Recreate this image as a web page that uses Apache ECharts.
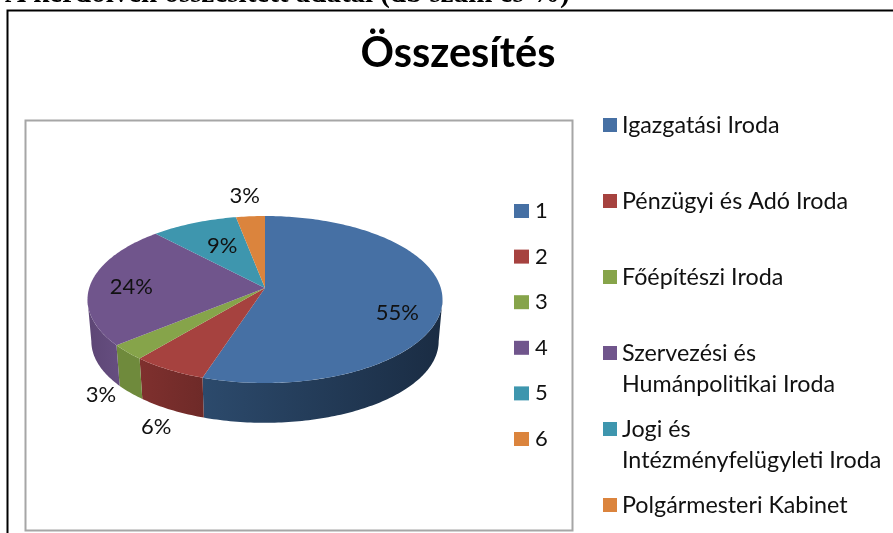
<!DOCTYPE html>
<html>
<head>
<meta charset="utf-8">
<title>Összesítés</title>
<script src="https://cdn.jsdelivr.net/npm/echarts@6/dist/echarts.min.js"></script>
<style>
html,body{margin:0;padding:0;background:#fff;}
#main{width:893px;height:533px;}
</style>
</head>
<body>
<div id="main"></div>
<script>
var categories=['1','2','3','4','5','6'];
var officeNames=['Igazgatási Iroda','Pénzügyi és Adó Iroda','Főépítészi Iroda','Szervezési és\nHumánpolitikai Iroda','Jogi és\nIntézményfelügyleti Iroda','Polgármesteri Kabinet'];
var shares=[55,6,3,24,9,3];
var topColors=['#4670a4','#a6423f','#86a44a','#70558c','#3e96ae','#db843d'];
var sideLeft=['#2c4a6c','#7f302e','#6f8a3c','#5d4675','#2f7a8e','#b86e30'];
var sideRight=['#1a2c43','#6e2a28','#6f8a3c','#664e80','#2f7a8e','#b86e30'];

// where the tilted disc sits on the page
var cx=265,topY=288,bottomY=330,k=0.138;
var topR=175.8,topS=81.9,bottomR=172,bottomS=80;
// label anchor as a fraction of the radius, then a small nudge
var labelFactor=[0.75,1.2,1.2,0.75,0.75,1.3];
var labelNudge=[[0,15],[10,38],[5,28],[-3,3],[12,8],[-2,-2]];

var total=0;
for(var i=0;i<shares.length;i++){total+=shares[i];}

function startOf(index){
    var sum=0;
    for(var i=0;i<index;i++){sum+=shares[i];}
    return sum/total*360;
}

// degrees clockwise from 12 o'clock to a point on the disc
function project(deg,factor,y0,r,s){
    var a=deg*Math.PI/180;
    var X=Math.sin(a)*factor,Y=-Math.cos(a)*factor;
    var d=1-k*Y;
    return [cx+r*X/d,y0+s*Y/d];
}

function rim(from,to,y0,r,s){
    var pts=[];
    var n=Math.max(2,Math.ceil(Math.abs(to-from)));
    for(var i=0;i<=n;i++){
        pts.push(project(from+(to-from)*i/n,1,y0,r,s));
    }
    return pts;
}

function renderSide(params,api){
    var i=params.dataIndex;
    var from=Math.max(startOf(i),98);
    var to=Math.min(startOf(i)+api.value(1)/total*360,262);
    if(to<=from){return {type:'group',children:[]};}
    var pts=rim(from,to,topY,topR,topS).concat(rim(to,from,bottomY,bottomR,bottomS));
    return {
        type:'polygon',
        shape:{points:pts},
        style:{fill:new echarts.graphic.LinearGradient(1,0,0,0,[
            {offset:0,color:sideRight[i]},{offset:1,color:sideLeft[i]}
        ])}
    };
}

function renderTop(params,api){
    var i=params.dataIndex;
    var from=startOf(i);
    var to=from+api.value(1)/total*360;
    var pts=[[cx,topY]].concat(rim(from,to,topY,topR,topS));
    var anchor=project((from+to)/2,labelFactor[i],topY,topR,topS);
    return {
        type:'group',
        children:[
            {type:'polygon',shape:{points:pts},style:{fill:topColors[i]}},
            {type:'text',z2:10,style:{
                text:api.value(1)+'%',
                x:anchor[0]+labelNudge[i][0],y:anchor[1]+labelNudge[i][1],
                align:'center',verticalAlign:'middle',
                font:'22px Lato',fill:'#111'
            }}
        ]
    };
}

function renderLegend(params,api){
    var i=params.dataIndex;
    var smallY=211+i*45.6;
    var bigY=125+i*76;
    return {
        type:'group',
        children:[
            {type:'rect',shape:{x:514,y:smallY-7,width:15,height:14},style:{fill:topColors[i]}},
            {type:'text',style:{text:categories[i],x:535,y:smallY,verticalAlign:'middle',font:'22px Lato',fill:'#111'}},
            {type:'rect',shape:{x:603,y:bigY-7,width:14,height:14},style:{fill:topColors[i]}},
            {type:'text',style:{text:officeNames[i],x:622,y:bigY-15,verticalAlign:'top',font:'23.3px Lato',lineHeight:31,fill:'#111'}}
        ]
    };
}

var seriesData=[];
for(var j=0;j<shares.length;j++){seriesData.push([j,shares[j]]);}

var myChart=echarts.init(document.getElementById('main'));
var option={
    animation:false,
    backgroundColor:'#fff',
    title:{
        text:'Összesítés',
        left:453,top:28,textAlign:'center',
        textStyle:{fontFamily:'Lato',fontSize:41.5,fontWeight:'bold',color:'#000'}
    },
    graphic:[
        {type:'text',left:5,top:-20,style:{text:'A kérdőíven összesített adatai (db szám és %)',font:'bold 29px "Liberation Serif"',fill:'#000'}},
        {type:'polyline',shape:{points:[[7.5,533],[7.5,10.5],[893,10.5]]},style:{stroke:'#000',lineWidth:2,fill:null}},
        {type:'rect',shape:{x:25.5,y:120.5,width:547,height:410},style:{stroke:'#a6a6a6',lineWidth:2,fill:'#fff'},z:-1}
    ],
    series:[
        {type:'custom',name:'side',coordinateSystem:'none',silent:true,data:seriesData,renderItem:renderSide,z:2},
        {type:'custom',name:'top',coordinateSystem:'none',silent:true,data:seriesData,renderItem:renderTop,z:3},
        {type:'custom',name:'legend',coordinateSystem:'none',silent:true,data:seriesData,renderItem:renderLegend,z:4}
    ]
};
myChart.setOption(option);
</script>
</body>
</html>
